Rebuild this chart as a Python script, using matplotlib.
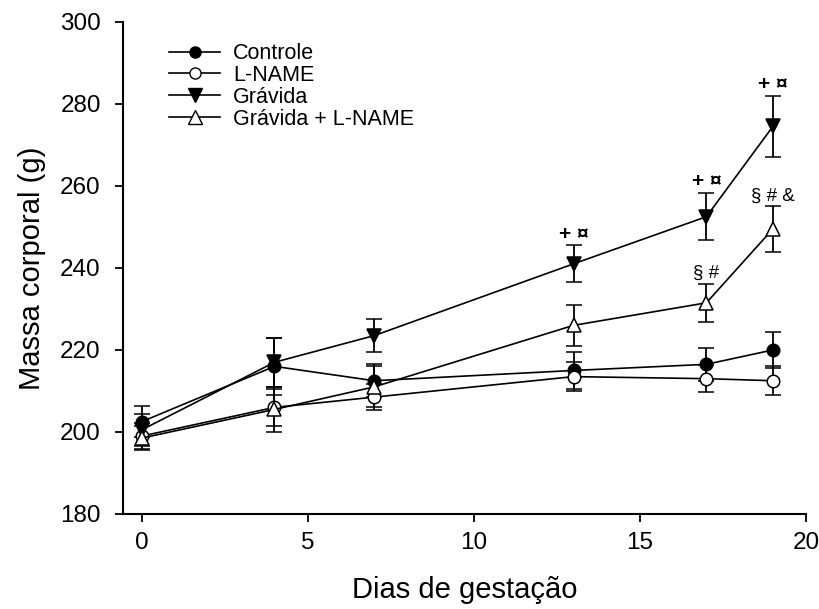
import matplotlib.pyplot as plt
from matplotlib.lines import Line2D

plt.rcParams['font.family'] = ['Liberation Sans', 'DejaVu Sans']

# Dias de gestação e massa corporal (média ± EPM)
dias = [0, 4, 7, 13, 17, 19]

controle = [202.5, 216.0, 212.5, 215.0, 216.5, 220.0]
controle_err = [3.8, 7.0, 4.0, 4.5, 4.0, 4.3]

lname = [199.0, 206.0, 208.5, 213.5, 213.0, 212.5]
lname_err = [3.2, 4.5, 3.2, 3.5, 3.3, 3.5]

gravida = [200.5, 217.0, 223.5, 241.0, 252.5, 274.5]
gravida_err = [4.0, 6.0, 4.0, 4.5, 5.8, 7.5]

gravida_lname = [198.5, 205.5, 211.0, 226.0, 231.5, 249.5]
gravida_lname_err = [3.0, 5.5, 5.0, 5.0, 4.7, 5.5]

# Marcas de significância (dia, texto) por grupo
sig_gravida = [(13, '+ ¤'), (17, '+ ¤'), (19, '+ ¤')]
sig_gravida_lname = [(17, '§ #'), (19, '§ # &')]

fig = plt.figure(figsize=(8.2, 6.09), dpi=100)
ax = fig.add_axes([0.15, 0.156, 0.833, 0.808])

series = [
    ('Controle', controle, controle_err, 'o', 'black', 9),
    ('L-NAME', lname, lname_err, 'o', 'white', 9),
    ('Grávida', gravida, gravida_err, 'v', 'black', 10.5),
    ('Grávida + L-NAME', gravida_lname, gravida_lname_err, '^', 'white', 10.5),
]

handles = []
for label, y, err, marker, face, ms in series:
    ax.errorbar(dias, y, yerr=err, color='black', lw=1.2, marker=marker,
                markersize=ms, markerfacecolor=face, markeredgecolor='black',
                markeredgewidth=1.1, capsize=5.5, capthick=1.3, elinewidth=1.3)
    handles.append(Line2D([], [], color='black', lw=1.2, marker=marker,
                          markersize=ms - 1, markerfacecolor=face,
                          markeredgecolor='black', label=label))

for d, txt in sig_gravida:
    i = dias.index(d)
    ax.text(d, gravida[i] + gravida_err[i] + 0.4, txt, ha='center', va='bottom',
            fontsize=15, fontweight='bold')
for d, txt in sig_gravida_lname:
    i = dias.index(d)
    ax.text(d, gravida_lname[i] + gravida_lname_err[i] + 0.4, txt, ha='center',
            va='bottom', fontsize=13.5)

ax.set_xlim(-0.56, 20)
ax.set_ylim(180, 300)
ax.set_xticks([0, 5, 10, 15, 20])
ax.set_yticks(range(180, 301, 20))
ax.tick_params(direction='out', length=6, width=1.3, labelsize=17.5)
ax.tick_params(axis='y', pad=10)
ax.tick_params(axis='x', pad=7)
for side in ('top', 'right'):
    ax.spines[side].set_visible(False)
for side in ('left', 'bottom'):
    ax.spines[side].set_linewidth(1.5)

ax.set_xlabel('Dias de gestação', fontsize=21, labelpad=16)
ax.set_ylabel('Massa corporal (g)', fontsize=21, labelpad=10)

ax.legend(handles=handles, loc='upper left', bbox_to_anchor=(0.067, 0.957),
          frameon=False, fontsize=15.5, handlelength=2.4, handletextpad=0.6,
          labelspacing=0.04, borderaxespad=0, borderpad=0)

fig.savefig('out.png', dpi=100)
